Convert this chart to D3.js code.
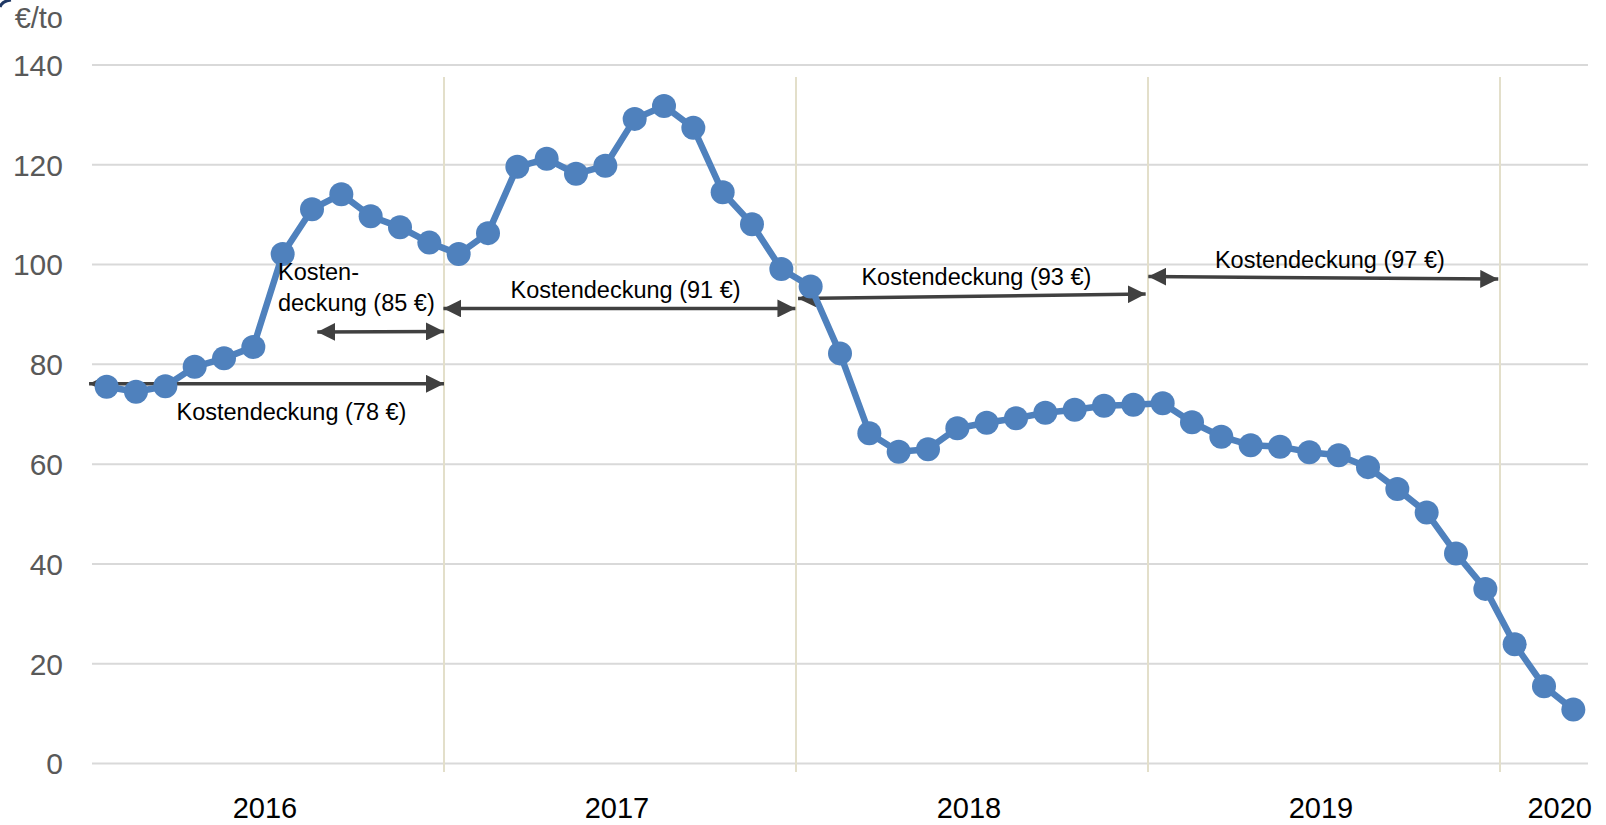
<!DOCTYPE html>
<html>
<head>
<meta charset="utf-8">
<script src="https://cdn.jsdelivr.net/npm/d3@7"></script>
<style>
  body { margin: 0; background: #fff; }
  svg { display: block; font-family: "Liberation Sans", Arial, sans-serif; }
</style>
</head>
<body>
<svg width="1606" height="825"></svg>
<script>
// monthly prices Jan 2016 .. Mar 2020 (€/to)
var years = ["2016", "2017", "2018", "2019", "2020"];
var monthsPerYear = [12, 12, 12, 12, 3];
var values = [
  75.5, 74.5, 75.6, 79.5, 81.2, 83.5, 102.1, 111.1, 114.1, 109.7, 107.5, 104.4,
  102.1, 106.3, 119.6, 121.2, 118.2, 119.8, 129.2, 131.8, 127.4, 114.5, 108.1, 99.1,
  95.6, 82.2, 66.2, 62.5, 63.0, 67.2, 68.3, 69.2, 70.3, 70.9, 71.7, 71.9,
  72.2, 68.4, 65.5, 63.8, 63.5, 62.4, 61.8, 59.4, 55.0, 50.3, 42.1, 35.0,
  23.9, 15.5, 10.8
];
var yTicks = [0, 20, 40, 60, 80, 100, 120, 140];

// cost coverage arrows: month position (start,end), value (start,end)
var arrowFrom = [-0.1, 7.68, 11.98, 24.07, 36.01];
var arrowTo   = [12.0, 12.0, 23.98, 35.92, 47.94];
var arrowV0   = [76.1, 86.5, 91.2, 93.2, 97.6];
var arrowV1   = [76.1, 86.6, 91.2, 94.1, 97.1];

// annotation texts: month position, value of baseline
var noteText = ["Kostendeckung (78 €)", "Kosten-", "deckung (85 €)",
                "Kostendeckung (91 €)", "Kostendeckung (93 €)", "Kostendeckung (97 €)"];
var noteX = [6.8, 6.34, 6.34, 18.19, 30.15, 42.2];
var noteV = [68.9, 96.9, 90.6, 93.3, 95.9, 99.3];
var noteAnchor = ["middle", "start", "start", "middle", "middle", "middle"];

var svg = d3.select("svg"),
    plotLeft = 92, plotRight = 1588, plotTop = 65, plotBottom = 763.5;

var months = [];
years.forEach(function(y, i) {
  for (var m = 1; m <= monthsPerYear[i]; m++) months.push(y + "-" + m);
});
var data = values.map(function(v, i) { return { m: months[i], v: v }; });

var x = d3.scaleBand().domain(months).range([plotLeft, plotRight]).padding(0);
var xm = d3.scaleLinear().domain([0, months.length]).range([plotLeft, plotRight]);
var y = d3.scaleLinear().domain([0, 140]).range([plotBottom, plotTop]);

// little corner arc
svg.append("path")
    .attr("d", "M0,7 Q2,1 11,0")
    .attr("fill", "none")
    .attr("stroke", "#1f3864")
    .attr("stroke-width", 3);

// horizontal grid
svg.append("g")
  .selectAll("line")
  .data(yTicks)
  .enter().append("line")
    .attr("x1", plotLeft).attr("x2", plotRight)
    .attr("y1", function(d) { return y(d); })
    .attr("y2", function(d) { return y(d); })
    .attr("stroke", "#d9d9d9")
    .attr("stroke-width", 2);

// year separators
var yearStarts = [];
var acc = 0;
monthsPerYear.forEach(function(n, i) { yearStarts.push({ y: years[i], s: acc, n: n }); acc += n; });

svg.append("g")
  .selectAll("line")
  .data(yearStarts.slice(1))
  .enter().append("line")
    .attr("x1", function(d) { return xm(d.s); })
    .attr("x2", function(d) { return xm(d.s); })
    .attr("y1", 77).attr("y2", 772)
    .attr("stroke", "#e3dfca")
    .attr("stroke-width", 2);

// y labels
svg.append("g")
  .selectAll("text")
  .data(yTicks)
  .enter().append("text")
    .attr("x", 63)
    .attr("y", function(d) { return y(d); })
    .attr("dy", "0.36em")
    .attr("text-anchor", "end")
    .attr("font-size", 30)
    .attr("fill", "#595959")
    .text(function(d) { return d; });

svg.append("text")
    .attr("x", 63).attr("y", 28)
    .attr("text-anchor", "end")
    .attr("font-size", 29)
    .attr("fill", "#595959")
    .text("€/to");

// year labels
svg.append("g")
  .selectAll("text")
  .data(yearStarts)
  .enter().append("text")
    .attr("x", function(d) { return d.n < 12 ? plotRight + 4 : xm(d.s + d.n / 2) - 3; })
    .attr("y", 818)
    .attr("text-anchor", function(d) { return d.n < 12 ? "end" : "middle"; })
    .attr("font-size", 29)
    .attr("fill", "#000")
    .text(function(d) { return d.y; });

// arrows
var defs = svg.append("defs");
["arrEnd", "arrStart"].forEach(function(id, i) {
  defs.append("marker")
      .attr("id", id)
      .attr("markerUnits", "userSpaceOnUse")
      .attr("markerWidth", 18).attr("markerHeight", 18)
      .attr("viewBox", "0 -8 16 16")
      .attr("refX", i === 0 ? 16 : 0).attr("refY", 0)
      .attr("orient", "auto")
    .append("path")
      .attr("d", i === 0 ? "M0,-8L16,0L0,8Z" : "M16,-8L0,0L16,8Z")
      .attr("fill", "#404040");
});

svg.append("g")
  .selectAll("line")
  .data(arrowFrom)
  .enter().append("line")
    .attr("x1", function(d) { return xm(d); })
    .attr("x2", function(d, i) { return xm(arrowTo[i]); })
    .attr("y1", function(d, i) { return y(arrowV0[i]); })
    .attr("y2", function(d, i) { return y(arrowV1[i]); })
    .attr("stroke", "#404040")
    .attr("stroke-width", 3.5)
    .attr("marker-start", "url(#arrStart)")
    .attr("marker-end", "url(#arrEnd)");

// series line
svg.append("path")
    .datum(data)
    .attr("fill", "none")
    .attr("stroke", "#4f81bd")
    .attr("stroke-width", 6.5)
    .attr("stroke-linejoin", "round")
    .attr("d", d3.line()
        .x(function(d) { return x(d.m) + x.bandwidth() / 2; })
        .y(function(d) { return y(d.v); }));

svg.append("g")
  .selectAll("circle")
  .data(data)
  .enter().append("circle")
    .attr("cx", function(d) { return x(d.m) + x.bandwidth() / 2; })
    .attr("cy", function(d) { return y(d.v); })
    .attr("r", 12)
    .attr("fill", "#4f81bd");

// annotation texts
svg.append("g")
  .selectAll("text")
  .data(noteText)
  .enter().append("text")
    .attr("x", function(d, i) { return xm(noteX[i]); })
    .attr("y", function(d, i) { return y(noteV[i]); })
    .attr("text-anchor", function(d, i) { return noteAnchor[i]; })
    .attr("font-size", 23.5)
    .attr("fill", "#000")
    .text(function(d) { return d; });
</script>
</body>
</html>
